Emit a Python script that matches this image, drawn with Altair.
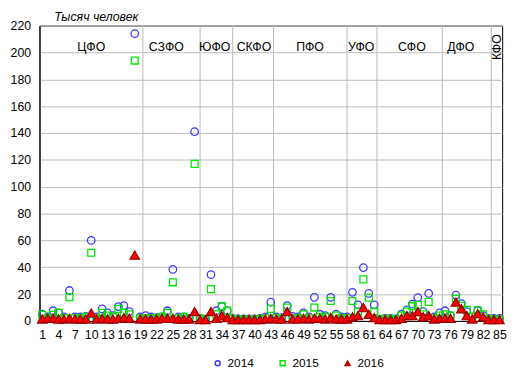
import altair as alt
import pandas as pd

regions = list(range(1, 86))

v2014 = [5, 3, 7.6, 6, 3, 22.7, 3, 3, 3.5, 60,
         3, 9, 6, 4, 10.7, 11.5, 7, 214, 3, 4,
         3, 2.5, 3, 7.6, 38.4, 3, 3, 2, 141, 2,
         1, 34.5, 7.6, 10.7, 7.6, 2, 1.5, 1.5, 1.5, 1.5,
         2, 3, 14, 3, 2.5, 11.5, 3.5, 3, 6, 3,
         17.6, 5, 4, 17.6, 5, 3, 3, 21.3, 12, 39.8,
         20.5, 12, 1, 2, 2, 1.5, 5, 8.3, 12.5, 17.4,
         7, 20.5, 3, 6, 7.6, 4, 19.3, 13, 7, 3,
         7.6, 4, 2, 2, 2]

v2015 = [4.6, 2, 4.6, 6, 2, 17.8, 2, 2, 3, 50.8,
         2, 6, 4, 3, 9, 6, 5, 194, 2, 2,
         2, 2, 3, 6, 28.8, 2, 3, 2, 117, 2,
         1, 23.7, 5, 11, 7.6, 1.5, 1, 1, 1, 1,
         1.5, 2, 9, 2, 2, 10, 2, 2, 5, 2,
         10, 3, 3, 14.9, 4, 2, 2, 14.9, 7, 31,
         17.4, 7, 1, 1.5, 1.5, 1, 4, 7, 11, 12,
         5, 14.2, 2, 4, 5, 4, 16.5, 11.3, 8.3, 3,
         8, 5, 1.5, 1, 1]

v2016 = [1.5, 2, 2, 1.5, 1.5, 2, 1.5, 1.5, 1.5, 5.9,
         1.5, 2, 1.5, 1.5, 2, 2.5, 2, 49, 1.5, 1.5,
         1.5, 1.5, 2, 2, 2, 1.5, 1.5, 1.5, 7, 1,
         1, 7, 2, 4, 2.5, 1, 1, 1, 1, 1,
         1, 1.5, 2, 1.5, 1.5, 7, 1.5, 1.5, 2, 1.5,
         2, 2, 1.5, 2.5, 1.5, 1.5, 1.5, 3, 4, 10,
         5, 2.5, 1, 1, 1, 1, 2, 4, 4, 7,
         3, 4, 1.5, 2, 2, 2, 14, 9, 4, 1.5,
         5.5, 3, 1, 1, 1]

years = ["2014", "2015", "2016"]
x_ticks = list(range(1, 86, 3))
y_ticks = list(range(0, 221, 20))

district_names = ["ЦФО", "СЗФО", "ЮФО", "СКФО", "ПФО", "УФО", "СФО", "ДФО"]
district_pos = [10, 23.8, 32.7, 39.9, 50.2, 59.6, 68.9, 77.9]
kfo_name = ["КФО"]
kfo_pos = [84.6]
label_level = 204
boundaries = [19.5, 30, 36, 43.5, 57, 62.5, 74.5, 83.5]

rows = []
for yr, vals in zip(years, [v2014, v2015, v2016]):
    for r, v in zip(regions, vals):
        rows.append({"region": r, "value": v, "year": yr})
df = pd.DataFrame(rows)

xscale = alt.Scale(domain=[0.5, 85.5], nice=False, zero=False)
yscale = alt.Scale(domain=[0, 220], nice=False)

xaxis = alt.Axis(values=x_ticks, title=None, grid=False, ticks=False, labelOverlap=False,
                 labelPadding=8, domainColor="black", labelFlush=False)
yaxis = alt.Axis(values=y_ticks, title=None, grid=True, gridColor="#BBBBBB", labelOverlap=False,
                 ticks=False, labelPadding=9, domainColor="black")

leg = alt.Legend(title=None, orient="none", legendX=175, legendY=337, direction="horizontal",
                 symbolSize=25, symbolStrokeWidth=1.5, labelFontSize=12, labelColor="black",
                 columnPadding=23, labelOffset=4, padding=0)

cscale = alt.Scale(domain=years, range=["#3a3aff", "#00e600", "#a00000"])
sscale = alt.Scale(domain=years, range=["circle", "square", "triangle-up"])
fscale = alt.Scale(domain=years, range=["rgba(0,0,0,0)", "rgba(0,0,0,0)", "#ff0000"])

bounds = alt.Chart(pd.DataFrame({"b": boundaries})).mark_rule(
    color="#BBBBBB", strokeWidth=1
).encode(x=alt.X("b:Q", scale=xscale, axis=xaxis))


def year_layer(yr, size):
    return alt.Chart(df).transform_filter(alt.datum.year == yr).mark_point(
        size=size, strokeWidth=1.3, opacity=1
    ).encode(
        x=alt.X("region:Q", scale=xscale, axis=xaxis),
        y=alt.Y("value:Q", scale=yscale, axis=yaxis),
        color=alt.Color("year:N", scale=cscale, legend=leg),
        shape=alt.Shape("year:N", scale=sscale, legend=leg),
        fill=alt.Fill("year:N", scale=fscale, legend=leg),
    )


p14 = year_layer("2014", 58)
p15 = year_layer("2015", 49)
p16 = year_layer("2016", 90)

labels = alt.Chart(pd.DataFrame({"name": district_names, "pos": district_pos})).mark_text(
    fontSize=12.5, baseline="middle", align="center", color="black"
).encode(
    x=alt.X("pos:Q", scale=xscale, axis=xaxis),
    y=alt.Y("lv:Q", scale=yscale, axis=yaxis),
    text="name:N",
).transform_calculate(lv=str(label_level))

kfo = alt.Chart(pd.DataFrame({"name": kfo_name, "pos": kfo_pos})).mark_text(
    fontSize=12.5, baseline="middle", align="center", color="black", angle=270
).encode(
    x=alt.X("pos:Q", scale=xscale, axis=xaxis),
    y=alt.Y("lv:Q", scale=yscale, axis=yaxis),
    text="name:N",
).transform_calculate(lv=str(label_level))

chart = alt.layer(bounds, p14, p15, p16, labels, kfo).properties(
    width=470, height=300,
    autosize=alt.AutoSizeParams(type="none"),
    padding={"left": 32, "top": 15, "right": 11, "bottom": 54},
    title=alt.TitleParams("Тысяч человек", anchor="start", fontStyle="italic", frame="group",
                          fontWeight="normal", fontSize=12.5, dx=15, offset=-4, color="black"),
).configure(
    font="Liberation Sans",
).configure_view(
    stroke="black", strokeWidth=1,
).configure_axis(
    labelFontSize=12.5, labelColor="black", domainWidth=1, labelOverlap=False,
)

chart.save("out.html", embed_options={"renderer": "svg", "actions": False})
